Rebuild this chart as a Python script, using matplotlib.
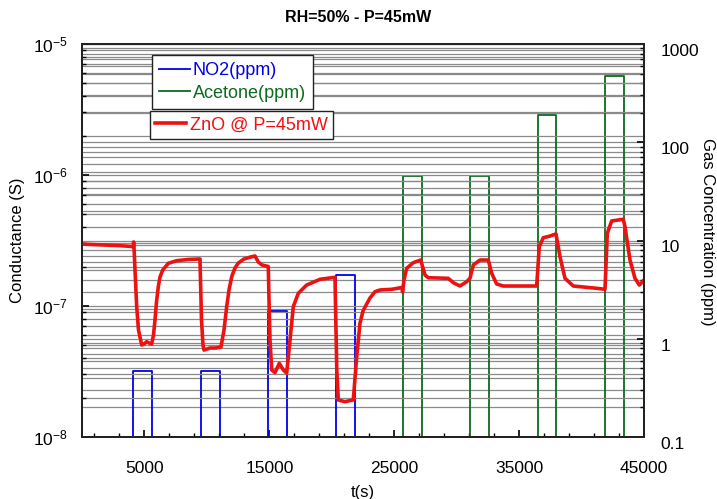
import numpy as np
import matplotlib
matplotlib.use("Agg")
import matplotlib.pyplot as plt
from matplotlib.ticker import FixedLocator, FuncFormatter, NullFormatter, LogLocator
from matplotlib.transforms import ScaledTranslation
from matplotlib.lines import Line2D

plt.rcParams['font.family'] = ['Liberation Sans', 'DejaVu Sans']

# ZnO conductance (S) vs time (s)
t_zno = [0, 1441, 3043, 4108, 4132, 4164, 4244, 4380, 4524, 4780, 4964, 5181, 5365, 5581,
         5725, 5845, 5965, 6109, 6245, 6462, 6910, 7583, 8487, 9448, 9488, 9568, 9688, 9769,
         10249, 10729, 11129, 11370, 11586, 11770, 11986, 12250, 12515, 12971, 13588, 13852,
         14116, 14413, 14917, 14973, 15053, 15189, 15454, 15798, 16118, 16391, 16655, 16919,
         17319, 17992, 19057, 20258, 20322, 20402, 20522, 21058, 21723, 21995, 22259, 22499,
         22796, 23060, 23460, 23861, 24798, 25622, 25670, 25782, 25998, 26526, 27119, 27303,
         27464, 27728, 29329, 29730, 30266, 30802, 31067, 31331, 31867, 32531, 32804, 33204,
         33733, 36407, 36615, 36936, 37472, 37953, 38273, 38674, 39338, 41212, 41877, 42061,
         42413, 43342, 43478, 43878, 44278, 44623, 44815, 45000]
g_zno = [2.97, 2.93, 2.89, 2.84, 3.08, 2.82, 1.88, 0.988, 0.656, 0.504, 0.513, 0.534, 0.522, 0.513,
         0.601, 0.782, 1.073, 1.404, 1.665, 1.88, 2.118, 2.217, 2.265, 2.285, 1.579, 0.782, 0.504, 0.461,
         0.478, 0.478, 0.486, 0.656, 0.988, 1.325, 1.674, 1.95, 2.129, 2.285, 2.378, 2.408,
         2.167, 2.056, 2.002, 1.111, 0.55, 0.325, 0.31, 0.365, 0.325, 0.308, 0.55, 0.988,
         1.25, 1.446, 1.599, 1.656, 0.782, 0.325, 0.1916, 0.186, 0.192, 0.41, 0.738, 0.916,
         1.036, 1.151, 1.286, 1.325, 1.341, 1.384, 1.279, 1.579, 1.94, 2.141, 2.244, 1.95,
         1.724, 1.644, 1.627, 1.506, 1.421, 1.532, 1.627, 2.056, 2.244, 2.244, 1.777, 1.472,
         1.421, 1.421, 2.84, 3.32, 3.42, 3.55, 2.378, 1.627, 1.421, 1.365, 1.341, 3.59,
         4.46, 4.59, 4.03, 2.244, 1.627, 1.446, 1.506, 1.579]
g_zno = [v * 1e-7 for v in g_zno]

# gas pulses (ppm)
no2_start = [4084, 9504, 14893, 20314]
no2_end = [5605, 11025, 16414, 21835]
no2_ppm = [0.47, 0.47, 1.9, 4.5]
ace_start = [25678, 31067, 36487, 41877]
ace_end = [27199, 32588, 37977, 43398]
ace_ppm = [45, 45, 190, 470]

BASE = 0.01


def pulses(starts, ends, vals):
    t = [0]
    c = [BASE]
    for s, e, v in zip(starts, ends, vals):
        t += [s, s, e, e]
        c += [BASE, v, v, BASE]
    t.append(45000)
    c.append(BASE)
    return t, c


fig = plt.figure(figsize=(7.17, 4.99), dpi=100)
ax2 = fig.add_axes([82 / 717, 1 - 437 / 499, 562 / 717, 393 / 499])
ax = ax2.twinx()
# red curve and left axis drawn above the gas axis
ax.set_zorder(ax2.get_zorder() + 1)
ax.patch.set_visible(False)
ax2.patch.set_visible(True)
ax2.yaxis.tick_right()
ax.yaxis.tick_left()
ax.yaxis.set_label_position('left')

grid_kw = dict(color='#8a8a8a', lw=0.9)

tn, cn = pulses(no2_start, no2_end, no2_ppm)
ta, ca = pulses(ace_start, ace_end, ace_ppm)
ax2.plot(tn, cn, color='#0000ee', lw=1.3)
ax2.plot(ta, ca, color='#0b6b1f', lw=1.3)
ax2.set_yscale('log')
ax2.set_ylim(0.1, 1000)
ax2.yaxis.set_major_formatter(FuncFormatter(lambda v, p: f'{v:g}'))
ax2.yaxis.set_minor_formatter(NullFormatter())
ax2.yaxis.set_minor_locator(LogLocator(base=10, subs=np.arange(2, 10)))
ax2.grid(True, which='both', axis='y', **grid_kw)
fig.text(707 / 717, 1 - 232 / 499, 'Gas Concentration (ppm)', fontsize=12,
         rotation=270, ha='center', va='center')

ax.plot(t_zno, g_zno, color='#ee1111', lw=2.6)
ax.set_yscale('log')
ax.set_ylim(1e-8, 1e-5)
ax.yaxis.set_minor_locator(LogLocator(base=10, subs=np.arange(2, 10)))
ax.yaxis.set_minor_formatter(NullFormatter())
ax.set_axisbelow(True)
ax.grid(True, which='both', axis='y', **grid_kw)
ax.set_ylabel('Conductance (S)', fontsize=12, labelpad=6)

ax2.set_xlim(0, 45000)
ax2.xaxis.set_major_locator(FixedLocator([5000, 15000, 25000, 35000, 45000]))
ax2.xaxis.set_minor_locator(FixedLocator([v for v in range(1000, 45000, 2000) if v % 10000 != 5000]))
ax2.grid(False, axis='x')
ax.grid(True, which='both', axis='x', **grid_kw)
ax2.set_xlabel('t(s)', fontsize=12, labelpad=7)

for a in (ax, ax2):
    a.tick_params(which='both', direction='in', labelsize=12.5, top=False)
    a.tick_params(which='major', length=5, width=1.2)
    a.tick_params(which='minor', length=3, width=1)
    for s in a.spines.values():
        s.set_linewidth(1.4)
        s.set_color('#222222')
ax2.tick_params(axis='x', pad=17)
ax.tick_params(axis='y', pad=10)
ax2.tick_params(axis='y', pad=12)

# right tick labels sit a little low in the original
shift = ScaledTranslation(0, -0.06, fig.dpi_scale_trans)
for lbl in ax2.get_yticklabels():
    lbl.set_transform(lbl.get_transform() + shift)

fig.text(0.5, 1 - 17 / 499, 'RH=50% - P=45mW', ha='center', va='center',
         fontsize=11.5, fontweight='bold')

h_gas = [Line2D([], [], color='#0000ee', lw=1.3), Line2D([], [], color='#0b6b1f', lw=1.3)]
leg1 = fig.legend(h_gas, ['NO2(ppm)', 'Acetone(ppm)'], loc='upper left',
                  bbox_to_anchor=(152 / 717, 1 - 55 / 499), borderaxespad=0,
                  fontsize=13, labelcolor='linecolor', fancybox=False, framealpha=1,
                  edgecolor='#222222', handlelength=1.7, handletextpad=0.15,
                  borderpad=0.4, labelspacing=0.3)
leg1.get_frame().set_linewidth(1.0)
h_zno = [Line2D([], [], color='#ee1111', lw=2.6)]
leg2 = fig.legend(h_zno, ['ZnO @ P=45mW'], loc='upper left',
                  bbox_to_anchor=(150 / 717, 1 - 111 / 499), borderaxespad=0,
                  fontsize=13, labelcolor='linecolor', fancybox=False, framealpha=1,
                  edgecolor='#222222', handlelength=1.7, handletextpad=0.2,
                  borderpad=0.3)
leg2.get_frame().set_linewidth(1.0)

fig.savefig('out.png', dpi=100)
